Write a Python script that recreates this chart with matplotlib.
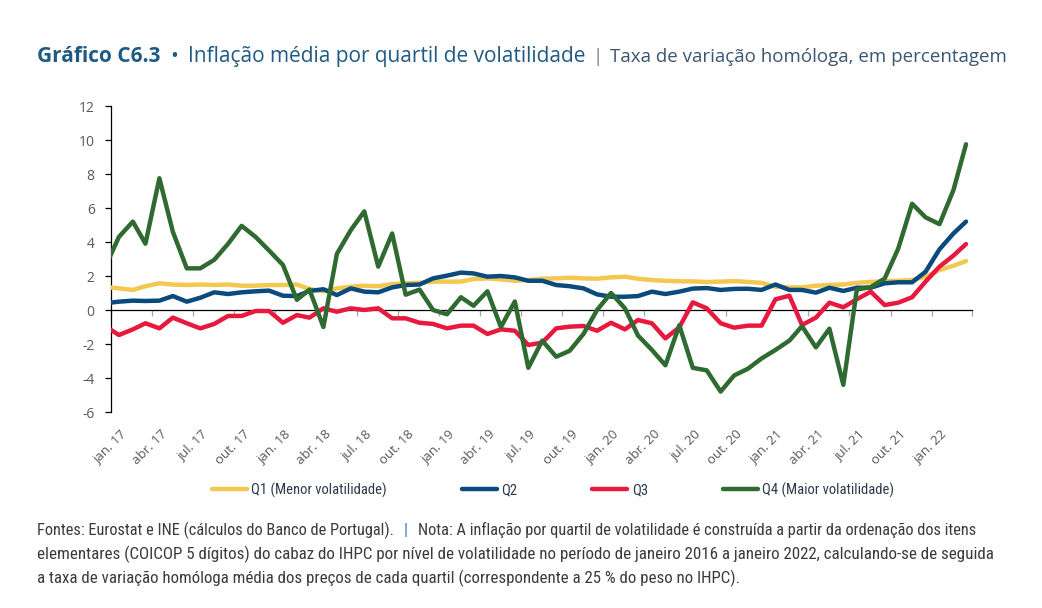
import numpy as np
import pandas as pd
import matplotlib
matplotlib.use('Agg')
import matplotlib.pyplot as plt
import matplotlib.transforms as mtransforms

# monthly data, Dec 2016 .. Mar 2022 (first point falls left of the axis and is clipped)
months = pd.date_range('2016-12-01', '2022-03-01', freq='MS') + pd.Timedelta(days=17)

q1 = [1.36, 1.27, 1.18, 1.4, 1.57, 1.5, 1.47, 1.5, 1.47, 1.5, 1.43, 1.43, 1.47, 1.47, 1.5, 1.23,
      1.1, 1.27, 1.37, 1.43, 1.4, 1.52, 1.57, 1.6, 1.67, 1.67, 1.67, 1.82, 1.86, 1.8, 1.72, 1.76,
      1.84, 1.86, 1.9, 1.86, 1.84, 1.92, 1.96, 1.84, 1.76, 1.72, 1.69, 1.68, 1.64, 1.67, 1.7, 1.65,
      1.6, 1.37, 1.33, 1.33, 1.43, 1.47, 1.5, 1.6, 1.65, 1.7, 1.72, 1.76, 1.96, 2.35, 2.6, 2.88]
q2 = [0.4, 0.49, 0.55, 0.53, 0.55, 0.82, 0.49, 0.72, 1.04, 0.94, 1.04, 1.1, 1.14, 0.84, 0.82, 1.12,
      1.22, 0.88, 1.27, 1.08, 1.04, 1.33, 1.47, 1.5, 1.86, 2.02, 2.2, 2.15, 1.96, 2.0, 1.92, 1.72,
      1.72, 1.47, 1.4, 1.27, 0.92, 0.78, 0.78, 0.82, 1.08, 0.94, 1.08, 1.26, 1.29, 1.18, 1.24, 1.25,
      1.18, 1.5, 1.18, 1.18, 1.02, 1.31, 1.12, 1.31, 1.31, 1.57, 1.63, 1.63, 2.25, 3.57, 4.5, 5.2]
q3 = [-0.95, -1.47, -1.14, -0.78, -1.08, -0.45, -0.78, -1.08, -0.82, -0.35, -0.35, -0.06, -0.06,
      -0.75, -0.3, -0.45, 0.1, -0.1, 0.1, 0.0, 0.1, -0.49, -0.49, -0.75, -0.82, -1.08, -0.92, -0.92,
      -1.41, -1.14, -1.22, -2.06, -1.92, -1.08, -0.98, -0.94, -1.22, -0.75, -1.14, -0.59, -0.78,
      -1.67, -1.02, 0.45, 0.1, -0.78, -1.04, -0.92, -0.92, 0.63, 0.84, -0.88, -0.45, 0.43, 0.16,
      0.63, 1.08, 0.29, 0.43, 0.75, 1.67, 2.55, 3.2, 3.88]
q4 = [2.5, 4.3, 5.2, 3.9, 7.75, 4.6, 2.45, 2.45, 2.95, 3.9, 4.95, 4.3, 3.5, 2.65, 0.6, 1.2, -1.0,
      3.3, 4.7, 5.8, 2.55, 4.5, 0.9, 1.2, 0.0, -0.25, 0.75, 0.25, 1.1, -1.0, 0.5, -3.4, -1.8, -2.75,
      -2.4, -1.4, 0.0, 1.0, 0.1, -1.5, -2.35, -3.25, -0.9, -3.4, -3.55, -4.8, -3.85, -3.45, -2.85,
      -2.35, -1.8, -0.95, -2.2, -1.1, -4.4, 1.2, 1.35, 1.85, 3.6, 6.25, 5.45, 5.05, 7.05, 9.75]

series_names = ['Q1 (Menor volatilidade)', 'Q2', 'Q3', 'Q4 (Maior volatilidade)']
series_colors = ['#F2C851', '#0B4A7C', '#E8193F', '#2F6A30']

month_abbr = ['jan', 'fev', 'mar', 'abr', 'mai', 'jun', 'jul', 'ago', 'set', 'out', 'nov', 'dez']
tick_dates = pd.date_range('2017-01-01', '2022-04-01', freq='QS')

title_bold = 'Gráfico C6.3'
title_main = 'Inflação média por quartil de volatilidade'
title_sub = 'Taxa de variação homóloga, em percentagem'
note_lines = [
    ('Fontes: Eurostat e INE (cálculos do Banco de Portugal).', '|',
     'Nota: A inflação por quartil de volatilidade é construída a partir da ordenação dos itens'),
    'elementares (COICOP 5 dígitos) do cabaz do IHPC por nível de volatilidade no período de janeiro 2016 a janeiro 2022, calculando-se de seguida',
    'a taxa de variação homóloga média dos preços de cada quartil (correspondente a 25 % do peso no IHPC).',
]

NARROW = ['Liberation Sans Narrow', 'Roboto Condensed', 'Open Sans Condensed', 'Noto Sans']
plt.rcParams['font.family'] = ['Open Sans', 'DejaVu Sans']
plt.rcParams['axes.unicode_minus'] = False

W, H = 1042, 608
fig = plt.figure(figsize=(W / 100, H / 100), dpi=100)
fig.patch.set_facecolor('white')

ax = fig.add_axes([111.3 / W, (H - 412) / H, (972.3 - 111.3) / W, (412 - 106) / H])

for vals, name, col in zip([q1, q2, q3, q4], series_names, series_colors):
    ax.plot(months, vals, color=col, lw=3.2, label=name, zorder=3,
            solid_joinstyle='round', solid_capstyle='round')

# spine position first: moving it resets the ticks
for s in ['top', 'right']:
    ax.spines[s].set_visible(False)
ax.spines['left'].set_linewidth(0.9)
ax.spines['bottom'].set_position(('data', 0))
ax.spines['bottom'].set_linewidth(0.9)
ax.spines['bottom'].set_zorder(2)

ax.tick_params(axis='y', direction='out', length=4, width=0.9, pad=8,
               labelsize=10, labelcolor='#595959', color='black')
ax.tick_params(axis='x', direction='out', length=4, width=0.9, pad=0,
               labelsize=9.5, labelcolor='#595959', color='#a6a6a6')

ax.set_ylim(-6, 12)
ax.set_yticks(np.arange(-6, 13, 2))
ax.set_xlim(tick_dates[0], tick_dates[-1])
ax.set_xticks(tick_dates)
labels = [f'{month_abbr[d.month - 1]}. {d:%y}' for d in tick_dates]
labels[-1] = ''
ax.set_xticklabels(labels, rotation=45, ha='right', va='top', rotation_mode='anchor')

offset = mtransforms.ScaledTranslation(9 / 100, -112 / 100, fig.dpi_scale_trans)
for lab in ax.get_xticklabels():
    lab.set_transform(lab.get_transform() + offset)

leg = fig.legend(loc='center', bbox_to_anchor=(553 / W, (H - 490) / H), ncol=4, frameon=False,
                 prop={'family': NARROW, 'size': 10.5, 'stretch': 'condensed'},
                 handlelength=2.4, handletextpad=0.3, columnspacing=5.15)
for t in leg.get_texts():
    t.set_color('#2c3a4c')


def put_row(x_px, y_px, parts, target=None):
    # place text pieces one after another on a line, in figure pixels;
    # if target is given, scale font sizes so the row spans that many pixels
    fig.canvas.draw()
    r = fig.canvas.get_renderer()
    texts = []
    for txt, gap, kw in parts:
        texts.append((fig.text(0, 0, txt, va='baseline', ha='left', **kw), gap))
    if target is not None:
        total = sum(t.get_window_extent(renderer=r).width + g for t, g in texts)
        k = (target - sum(g for _, g in texts)) / (total - sum(g for _, g in texts))
        for t, _ in texts:
            t.set_fontsize(t.get_fontsize() * k)
    x = x_px
    for t, gap in texts:
        x += gap
        t.set_position((x / W, (H - y_px) / H))
        x += t.get_window_extent(renderer=r).width
    return x


blue = '#1F5A85'
put_row(37, 62, [
    (title_bold, 0, dict(fontsize=15, fontweight='bold', color=blue)),
    ('•', 10, dict(fontsize=15, color=blue)),
    (title_main, 10, dict(fontsize=15, color=blue)),
    ('|', 7, dict(fontsize=13.5, color='#6d7f8f')),
    (title_sub, 7, dict(fontsize=13.5, color='#3a5670')),
], target=971)

note_kw = dict(family=NARROW, fontsize=12.5, color='#3b3b3b', stretch='condensed')
a, sep, b = note_lines[0]
put_row(37, 535, [
    (a, 0, note_kw),
    (sep, 10, dict(note_kw, color='#3d7ab8')),
    (b, 10, note_kw),
], target=946)
put_row(37, 559, [(note_lines[1], 0, note_kw)], target=966)
put_row(37, 583, [(note_lines[2], 0, note_kw)], target=703)

fig.savefig('out.png', dpi=100, facecolor='white')
